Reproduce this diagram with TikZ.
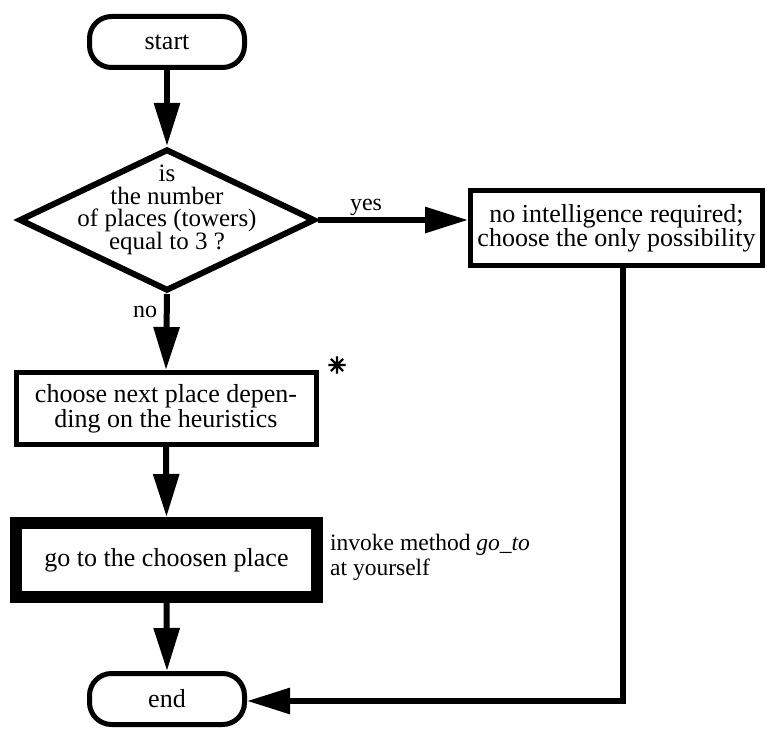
\documentclass[tikz,border=0pt]{standalone}
\usepackage{fontspec}
\setmainfont{Liberation Serif}
\newfontfamily\starfont[FakeBold=5]{DejaVu Sans}
\usetikzlibrary{arrows.meta,shapes.geometric,calc}

\tikzset{
  base/.style={font=\fontsize{26}{25}\selectfont, align=center, inner sep=0pt},
  terminal/.style={base, draw, line width=5pt, rounded corners=22pt,
    minimum width=155pt, minimum height=51pt},
  stepbox/.style={base, draw, line width=5pt, minimum width=300pt, minimum height=72pt},
  decision/.style={draw, diamond, line width=6pt, inner sep=0pt,
    minimum width=296pt, minimum height=142pt},
  conn/.style={line width=6pt, -{Triangle[length=43pt,width=25pt]}},
  lbl/.style={font=\fontsize{24}{24}\selectfont, inner sep=0pt},
}

\begin{document}
\begin{tikzpicture}[x=1pt, y=-1pt]
  \useasboundingbox (0,0) rectangle (768,733);

  % terminals
  \node[terminal] (start) at (167,42) {start};
  \node[terminal] (end)   at (167,699) {end};

  % decision
  \node[decision] (dia) at (167,220) {};
  \node[base, font=\fontsize{25}{22.7}\selectfont] (diatext) at (167,210)
    {is\\the number\\of places (towers)\\equal to 3 ?};

  % process boxes
  \node[stepbox, minimum width=292pt, minimum height=75pt,
        font=\fontsize{26}{24}\selectfont] (rb) at (616.5,228)
    {no intelligence required;\\choose the only possibility};
  \node[stepbox] (choose) at (166,408.5)
    {choose next place depen-\\ding on the heuristics};
  \node[stepbox, line width=12pt, minimum width=301pt, minimum height=74pt]
    (goto) at (166.5,560) {go to the choosen place};

  % annotations
  \node[font=\starfont\fontsize{22}{22}\selectfont, inner sep=0pt] (star) at (337,365) {✳};
  \node[anchor=west, align=left, inner sep=0pt,
        font=\fontsize{23.5}{25}\selectfont] (note) at (330,557.5)
    {invoke method \textit{go\_to}\\at yourself};

  % labels on the branches
  \node[lbl] (yes) at (366,207) {yes};
  \node[lbl] (no) at (145,312) {no};

  % connectors
  \draw[conn] (start.south) -- (dia.north);
  \draw[conn] (dia.east) -- (dia.east -| rb.west);
  \draw[conn] (dia.south) -- (choose.north);
  \draw[conn] (choose.south) -- (goto.north);
  \draw[conn] (goto.south) -- (end.north);
  \draw[conn] ([xshift=6.5pt]rb.south) |- ([yshift=-2pt]end.east);
\end{tikzpicture}
\end{document}
